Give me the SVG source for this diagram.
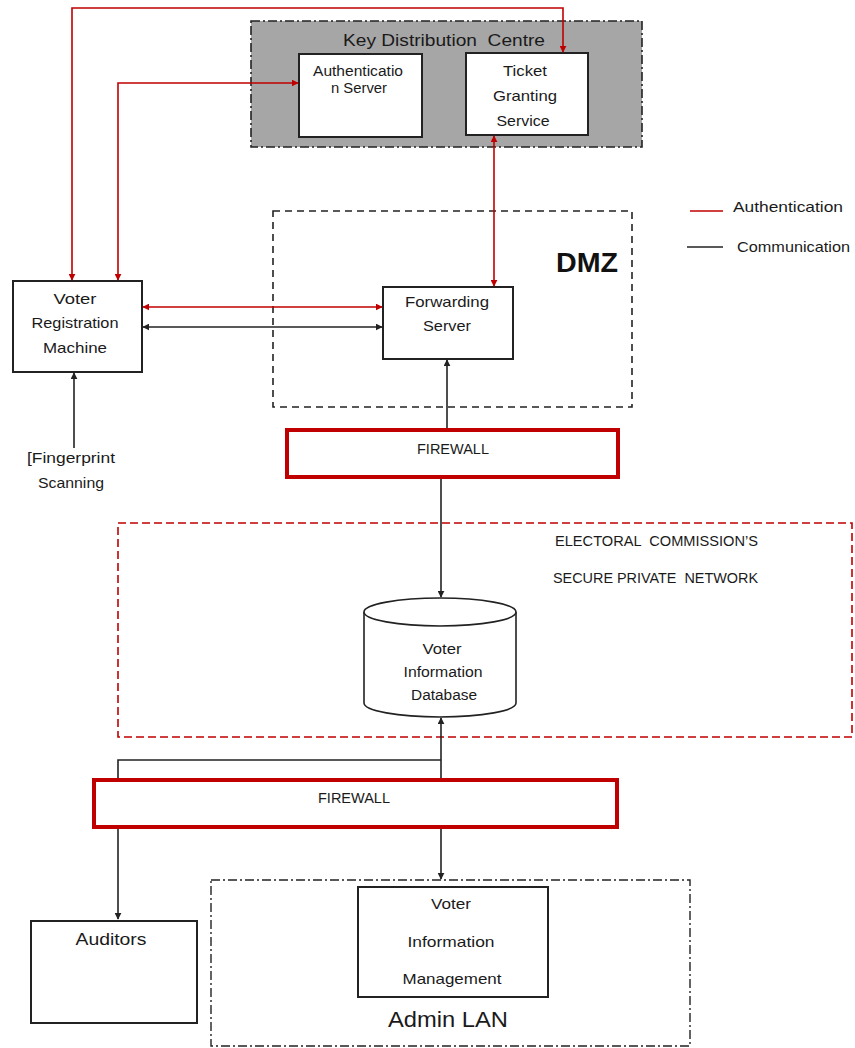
<svg xmlns="http://www.w3.org/2000/svg" width="855" height="1048" viewBox="0 0 855 1048">
<style>
text{font-family:"Liberation Sans",Arial,sans-serif;fill:#1a1a1a;text-anchor:middle;font-size:15px;white-space:pre}
.m{font-size:14px}
.box{fill:#fff;stroke:#222;stroke-width:2}
.red{fill:none;stroke:#c00000;stroke-width:1.6}
.blk{fill:none;stroke:#222;stroke-width:1.6}
.fw{fill:#fff;stroke:#c00000;stroke-width:4}
</style>
<defs>
<marker id="ar" viewBox="0 0 10 10" refX="9" refY="5" markerWidth="7" markerHeight="7" orient="auto-start-reverse" markerUnits="userSpaceOnUse"><path d="M0,0L10,5L0,10z" fill="#c00000"/></marker>
<marker id="ab" viewBox="0 0 10 10" refX="9" refY="5" markerWidth="7" markerHeight="7" orient="auto-start-reverse" markerUnits="userSpaceOnUse"><path d="M0,0L10,5L0,10z" fill="#222"/></marker>
</defs>

<g id="kdc">
<rect x="251" y="21" width="391" height="126" fill="#a6a6a6" stroke="#222" stroke-width="1.6" stroke-dasharray="9,3,2,3"/>
<text x="444" y="46" style="font-size:17px" textLength="202" lengthAdjust="spacingAndGlyphs">Key Distribution  Centre</text>
</g>
<g id="auth-server">
<rect class="box" x="299" y="54" width="123" height="83"/>
<text class="m" x="358" y="76" textLength="90" lengthAdjust="spacingAndGlyphs">Authenticatio</text>
<text class="m" x="359" y="93" textLength="56" lengthAdjust="spacingAndGlyphs">n Server</text>
</g>
<g id="tgs">
<rect class="box" x="466" y="53" width="122" height="82"/>
<text x="525" y="76" textLength="44" lengthAdjust="spacingAndGlyphs">Ticket</text>
<text x="525" y="101" textLength="64" lengthAdjust="spacingAndGlyphs">Granting</text>
<text x="523" y="126" textLength="53" lengthAdjust="spacingAndGlyphs">Service</text>
</g>

<g id="dmz">
<rect x="273" y="211" width="359" height="196" fill="none" stroke="#222" stroke-width="1.6" stroke-dasharray="7,5"/>
<text x="587" y="272" style="font-size:27px;font-weight:bold;fill:#111" textLength="62" lengthAdjust="spacingAndGlyphs">DMZ</text>
</g>

<g id="legend">
<line x1="690" y1="211" x2="723" y2="211" stroke="#c00000" stroke-width="1.6"/>
<text x="733" y="212" style="text-anchor:start" textLength="110" lengthAdjust="spacingAndGlyphs">Authentication</text>
<line x1="687" y1="247" x2="723" y2="247" stroke="#222" stroke-width="1.6"/>
<text x="737" y="252" style="text-anchor:start" textLength="113" lengthAdjust="spacingAndGlyphs">Communication</text>
</g>

<g id="voter-registration">
<rect class="box" x="13" y="281" width="129" height="91"/>
<text x="75" y="304" textLength="43" lengthAdjust="spacingAndGlyphs">Voter</text>
<text x="75" y="328" textLength="87" lengthAdjust="spacingAndGlyphs">Registration</text>
<text x="75" y="353" textLength="64" lengthAdjust="spacingAndGlyphs">Machine</text>
</g>

<g id="forwarding-server">
<rect class="box" x="383" y="287" width="130" height="72"/>
<text x="447" y="307" textLength="84" lengthAdjust="spacingAndGlyphs">Forwarding</text>
<text x="447" y="331" textLength="48" lengthAdjust="spacingAndGlyphs">Server</text>
</g>

<g id="fingerprint">
<text x="71" y="463" textLength="88" lengthAdjust="spacingAndGlyphs">[Fingerprint</text>
<text x="71" y="488" textLength="66" lengthAdjust="spacingAndGlyphs">Scanning</text>
</g>

<g id="firewall1">
<rect class="fw" x="287" y="430" width="331" height="47"/>
<text x="453" y="454" textLength="72" lengthAdjust="spacingAndGlyphs">FIREWALL</text>
</g>

<g id="ec-network">
<rect x="118" y="523" width="734" height="214" fill="none" stroke="#c00000" stroke-width="1.6" stroke-dasharray="8,4"/>
<text x="555" y="546" style="text-anchor:start" textLength="203" lengthAdjust="spacingAndGlyphs">ELECTORAL  COMMISSION’S</text>
<text x="553" y="583" style="text-anchor:start" textLength="205" lengthAdjust="spacingAndGlyphs">SECURE PRIVATE  NETWORK</text>
</g>

<g id="database">
<path d="M364,612 L364,703 A76,14 0 0 0 516,703 L516,612" fill="#fff" stroke="#222" stroke-width="1.6"/>
<ellipse cx="440" cy="612" rx="76" ry="14" fill="#fff" stroke="#222" stroke-width="1.6"/>
<text class="m" x="442" y="654" textLength="39" lengthAdjust="spacingAndGlyphs">Voter</text>
<text class="m" x="443" y="677" textLength="79" lengthAdjust="spacingAndGlyphs">Information</text>
<text class="m" x="444" y="700" textLength="66" lengthAdjust="spacingAndGlyphs">Database</text>
</g>

<g id="firewall2">
<rect class="fw" x="94" y="780" width="523" height="47"/>
<text x="354" y="803" textLength="72" lengthAdjust="spacingAndGlyphs">FIREWALL</text>
</g>

<g id="auditors">
<rect class="box" x="31" y="921" width="166" height="102"/>
<text x="111" y="945" style="font-size:16px" textLength="71" lengthAdjust="spacingAndGlyphs">Auditors</text>
</g>

<g id="admin-lan">
<rect x="211" y="880" width="479" height="166" fill="none" stroke="#222" stroke-width="1.4" stroke-dasharray="9,3,2,3"/>
<text x="448" y="1027" style="font-size:22px" textLength="120" lengthAdjust="spacingAndGlyphs">Admin LAN</text>
</g>

<g id="vim">
<rect class="box" x="358" y="887" width="190" height="110"/>
<text x="451" y="909" textLength="40" lengthAdjust="spacingAndGlyphs">Voter</text>
<text x="451" y="947" textLength="87" lengthAdjust="spacingAndGlyphs">Information</text>
<text x="452" y="984" textLength="99" lengthAdjust="spacingAndGlyphs">Management</text>
</g>

<g id="connectors">
<path class="red" d="M72,280 L72,8 L563,8 L563,52" marker-start="url(#ar)" marker-end="url(#ar)"/>
<path class="red" d="M118,280 L118,83 L298,83" marker-start="url(#ar)" marker-end="url(#ar)"/>
<path class="red" d="M494,136 L494,286" marker-start="url(#ar)" marker-end="url(#ar)"/>
<path class="red" d="M143,307 L382,307" marker-start="url(#ar)" marker-end="url(#ar)"/>
<path class="blk" d="M143,327 L382,327" marker-start="url(#ab)" marker-end="url(#ab)"/>
<path class="blk" d="M74,448 L74,373" marker-end="url(#ab)"/>
<path class="blk" d="M447,428 L447,360" marker-end="url(#ab)"/>
<path class="blk" d="M441,479 L441,597" marker-end="url(#ab)"/>
<path class="blk" d="M441,778 L441,718" marker-end="url(#ab)"/>
<path class="blk" d="M441,760 L118,760 L118,778"/>
<path class="blk" d="M118,829 L118,919" marker-end="url(#ab)"/>
<path class="blk" d="M441,829 L441,879" marker-end="url(#ab)"/>
</g>
</svg>
